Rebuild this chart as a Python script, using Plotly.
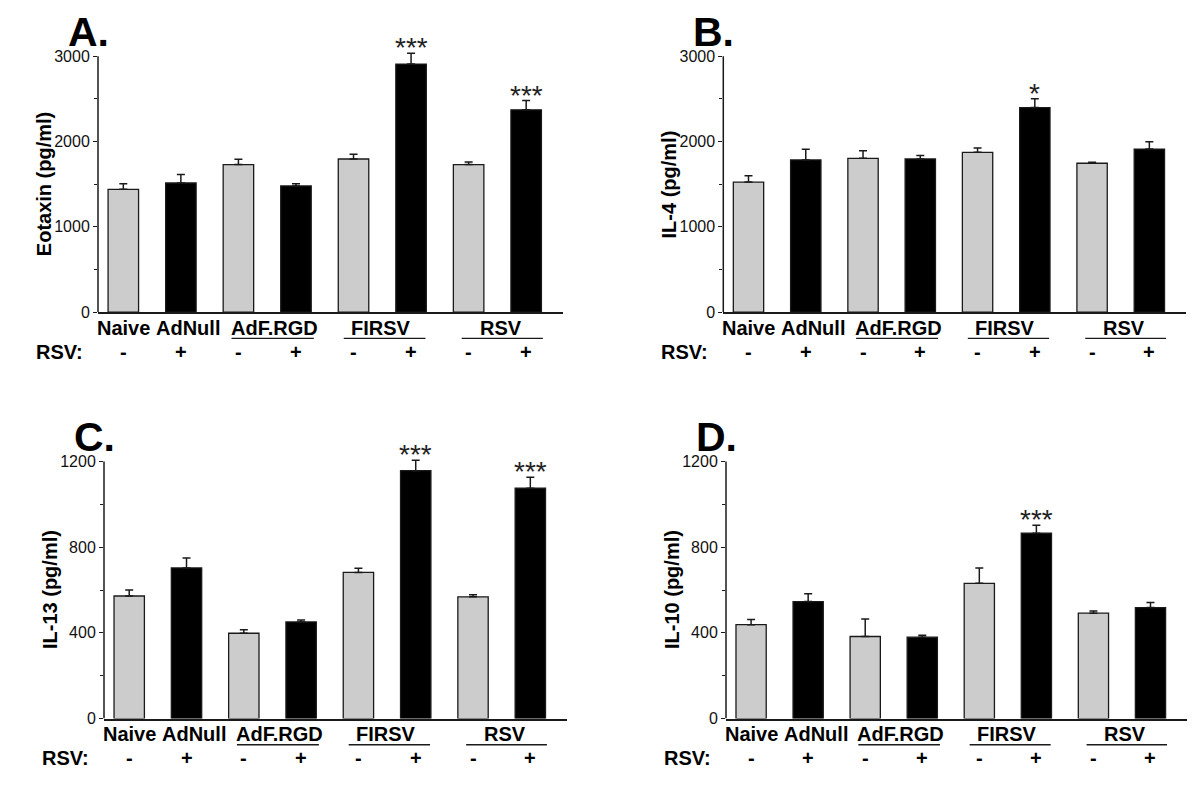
import plotly.graph_objects as go

# page has an 8px body margin: keep the figure inside the window
PAD = 8
W, H = 1200 - 2 * PAD, 808 - 2 * PAD


def px(x):
    return (x - PAD) / W


def py(y):
    return 1 - (y - PAD) / H


# ---------------- data ----------------
categories = ["Naive", "AdNull", "AdF.RGD -", "AdF.RGD +", "FIRSV -", "FIRSV +", "RSV -", "RSV +"]
rsv_signs = ["-", "+", "-", "+", "-", "+", "-", "+"]
group_labels = ["Naive", "AdNull", "AdF.RGD", "FIRSV", "RSV"]

eotaxin = [1440, 1514, 1730, 1479, 1795, 2907, 1730, 2371]
eotaxin_err = [66, 100, 62, 27, 55, 128, 30, 108]

il4 = [1525, 1784, 1803, 1796, 1873, 2398, 1745, 1911]
il4_err = [73, 124, 90, 39, 50, 104, 12, 86]

il13 = [572, 703, 398, 451, 682, 1157, 568, 1075]
il13_err = [28, 46, 16, 9, 20, 49, 10, 51]

il10 = [438, 546, 383, 380, 631, 865, 492, 518]
il10_err = [24, 37, 82, 9, 72, 37, 10, 24]

stars_A = {"FIRSV +": "***", "RSV +": "***"}
stars_B = {"FIRSV +": "*"}
stars_C = {"FIRSV +": "***", "RSV +": "***"}
stars_D = {"FIRSV +": "***"}

# ---------------- layout helpers ----------------
group_label_x = [0, 1.13, 2.62, 4.48, 6.56]
underline_spans = [(1.88, 3.31), (3.83, 5.25), (5.88, 7.29)]

FONT = "Liberation Sans, Arial, Helvetica, sans-serif"
GRAY = "#cccccc"
INK = "#1a1a1a"

panels = [
    dict(letter="A.", title="Eotaxin (pg/ml)", values=eotaxin, errs=eotaxin_err, stars=stars_A,
         ymax=3000, dtick=1000, minor=500, left=98, right=563, bottom=315.7, top=56.7),
    dict(letter="B.", title="IL-4 (pg/ml)", values=il4, errs=il4_err, stars=stars_B,
         ymax=3000, dtick=1000, minor=500, left=723.3, right=1186, bottom=315.7, top=56.7),
    dict(letter="C.", title="IL-13 (pg/ml)", values=il13, errs=il13_err, stars=stars_C,
         ymax=1200, dtick=400, minor=200, left=104, right=567, bottom=726.7, top=466.7),
    dict(letter="D.", title="IL-10 (pg/ml)", values=il10, errs=il10_err, stars=stars_D,
         ymax=1200, dtick=400, minor=200, left=726, right=1187, bottom=726.7, top=466.7),
]

fig = go.Figure()
annotations = []
shapes = []
layout_axes = {}
EXT = 1.06

for i, p in enumerate(panels):
    n = "" if i == 0 else str(i + 1)
    xname, yname = "x" + n, "y" + n
    colors = [GRAY if s == "-" else "#000000" for s in rsv_signs]
    fig.add_trace(go.Bar(
        x=categories, y=p["values"], xaxis=xname, yaxis=yname,
        marker=dict(color=colors, line=dict(color=INK, width=1.3)),
        width=0.53,
        error_y=dict(type="data", symmetric=False, array=p["errs"],
                     arrayminus=[0] * len(p["errs"]), color=INK, thickness=1.5, width=4),
        showlegend=False, hoverinfo="x+y",
    ))
    top_ext = p["bottom"] - (p["bottom"] - p["top"]) * EXT
    layout_axes["xaxis" + n] = dict(
        domain=[px(p["left"]), px(p["right"])], anchor=yname, type="category",
        range=[-0.44, 7.64], showline=True, linecolor=INK, linewidth=1.5,
        ticks="", showticklabels=False, showgrid=False, zeroline=False, fixedrange=True,
    )
    layout_axes["yaxis" + n] = dict(
        domain=[py(p["bottom"]), py(top_ext)], anchor=xname,
        range=[0, p["ymax"] * EXT], showline=False, showgrid=False, zeroline=False,
        tick0=0, dtick=p["dtick"], ticks="outside", ticklen=4, tickwidth=1.2, tickcolor=INK,
        minor=dict(dtick=p["minor"], ticks="outside", ticklen=3, tickwidth=1.2, tickcolor=INK),
        tickfont=dict(family=FONT, size=16, color="#111"), fixedrange=True,
    )
    # y axis line only up to the top tick
    shapes.append(dict(type="line", xref=xname + " domain", yref=yname,
                       x0=0, x1=0, y0=0, y1=p["ymax"], line=dict(color=INK, width=1.5)))
    # stars
    for cat, txt in p["stars"].items():
        k = categories.index(cat)
        annotations.append(dict(x=cat, y=p["values"][k] + p["errs"][k], xref=xname, yref=yname,
                                text=txt, showarrow=False, yanchor="bottom", yshift=-12,
                                font=dict(family=FONT, size=28, color="#222")))
    # panel letter (tight box: cap height + baseline only)
    box_top = max(PAD, p["top"] - 41.7 - 7.5)
    annotations.append(dict(x=px(p["left"] - 31), y=py(box_top), xref="paper", yref="paper",
                            text="<b>%s</b>" % p["letter"], showarrow=False, xanchor="left",
                            yanchor="top", valign="top", height=38, borderpad=0,
                            font=dict(family=FONT, size=41, color="#000")))
    # y title
    annotations.append(dict(x=px(p["left"] - 54), xref="paper", y=py((p["top"] + p["bottom"]) / 2),
                            yref="paper", text="<b>%s</b>" % p["title"], textangle=-90,
                            showarrow=False, xanchor="center", yanchor="middle",
                            font=dict(family=FONT, size=20, color="#000")))
    # group labels
    for lab, gx in zip(group_labels, group_label_x):
        annotations.append(dict(x=gx, y=py(p["bottom"] + 16), xref=xname, yref="paper",
                                text="<b>%s</b>" % lab, showarrow=False, xanchor="center",
                                yanchor="middle", font=dict(family=FONT, size=20, color="#000")))
    for (u0, u1) in underline_spans:
        shapes.append(dict(type="line", xref=xname, yref="paper", x0=u0, x1=u1,
                           y0=py(p["bottom"] + 26.5), y1=py(p["bottom"] + 26.5),
                           line=dict(color=INK, width=1.3)))
    # RSV row
    annotations.append(dict(x=px(p["left"] - 13), y=py(p["bottom"] + 40), xref="paper", yref="paper",
                            text="<b>RSV:</b>", showarrow=False, xanchor="right", yanchor="middle",
                            font=dict(family=FONT, size=20, color="#000")))
    for k, s in enumerate(rsv_signs):
        annotations.append(dict(x=k, y=py(p["bottom"] + 40), xref=xname, yref="paper",
                                text="<b>%s</b>" % s, showarrow=False, xanchor="center",
                                yanchor="middle", font=dict(family=FONT, size=20, color="#000")))

fig.update_layout(
    width=W, height=H, margin=dict(l=0, r=0, t=0, b=0),
    paper_bgcolor="white", plot_bgcolor="white",
    annotations=annotations, shapes=shapes, bargap=0.3,
    **layout_axes,
)

fig.write_html("out.html")
